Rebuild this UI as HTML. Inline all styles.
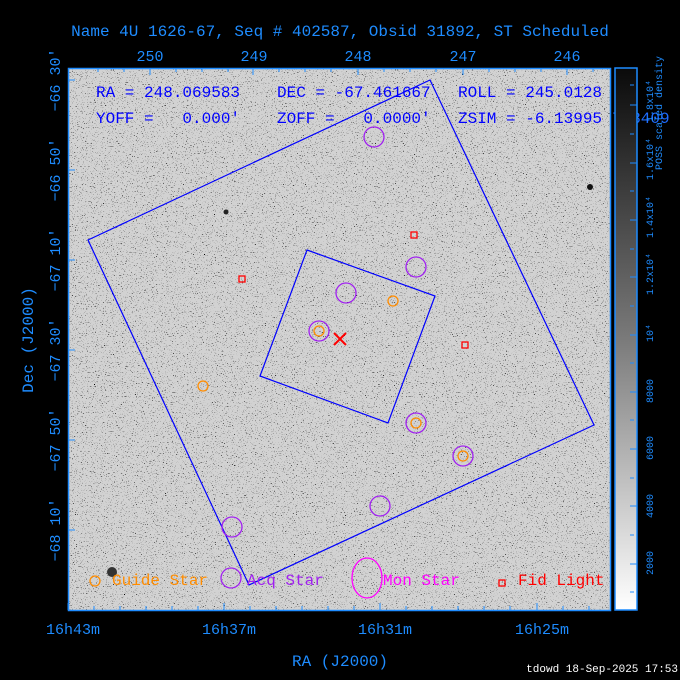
<!DOCTYPE html>
<html><head><meta charset="utf-8"><style>
html,body{margin:0;padding:0;background:#000;}
svg{display:block;}
text{font-family:"Liberation Mono",monospace;}
</style></head><body>
<svg width="680" height="680" viewBox="0 0 680 680" xmlns="http://www.w3.org/2000/svg">
<defs>
<filter id="nz" x="0" y="0" width="100%" height="100%">
<feTurbulence type="fractalNoise" baseFrequency="0.9" numOctaves="1" seed="7" result="t"/>
<feColorMatrix in="t" type="matrix" values="0 0 0 0 0  0 0 0 0 0  0 0 0 0 0  -9 0 0 0 3.4" result="d"/>
<feComposite in="d" in2="SourceGraphic" operator="over"/>
</filter>
<linearGradient id="cb" x1="0" y1="0" x2="0" y2="1">
<stop offset="0" stop-color="#0a0a0a"/><stop offset="0.5" stop-color="#7a7a7a"/><stop offset="1" stop-color="#ffffff"/>
</linearGradient>
</defs>
<rect x="68" y="68" width="542" height="542" fill="#d2d2d2" filter="url(#nz)"/>
<rect x="68.5" y="68.5" width="542" height="542" fill="none" stroke="#1e8cff" stroke-width="1.5"/>
<circle cx="590" cy="187" r="3" fill="#111"/><circle cx="112" cy="572" r="5" fill="#333"/><circle cx="226" cy="212" r="2.5" fill="#222"/>
<g stroke="#1e8cff" stroke-width="1">
<path d="M150 68v7M253 68v7M358 68v7M463 68v7M567 68v7M98 68v4M124 68v4M176 68v4M202 68v4M228 68v4M279 68v4M305 68v4M331 68v4M384 68v4M410 68v4M436 68v4M489 68v4M515 68v4M541 68v4M593 68v4"/>
<path d="M68 610v-7M224 610v-7M380 610v-7M537 610v-7M94 610v-4M120 610v-4M146 610v-4M172 610v-4M198 610v-4M250 610v-4M276 610v-4M302 610v-4M328 610v-4M354 610v-4M406 610v-4M432 610v-4M458 610v-4M484 610v-4M510 610v-4M563 610v-4M589 610v-4"/>
<path d="M68 80h7M68 170h7M68 260h7M68 350h7M68 440h7M68 530h7"/>
</g>
<g fill="none" stroke="#0000ff" stroke-width="1.2">
<polygon points="430,80 594,425 249,585 88,240"/>
<polygon points="307,250 435,296 388,423 260,376"/>
</g>
<g fill="none" stroke="#a020f0" stroke-width="1.3">
<circle cx="374" cy="137" r="10"/><circle cx="416" cy="267" r="10"/><circle cx="346" cy="293" r="10"/><circle cx="319" cy="331" r="10"/><circle cx="416" cy="423" r="10"/><circle cx="463" cy="456" r="10"/><circle cx="380" cy="506" r="10"/><circle cx="232" cy="527" r="10"/><circle cx="231" cy="578" r="10"/>
</g>
<g fill="none" stroke="#ff8c00" stroke-width="1.3">
<circle cx="319" cy="331" r="5"/><circle cx="393" cy="301" r="5"/><circle cx="203" cy="386" r="5"/><circle cx="416" cy="423" r="5"/><circle cx="463" cy="456" r="5"/><circle cx="95" cy="581" r="5"/>
</g>
<g fill="none" stroke="#ff0000" stroke-width="1.3">
<rect x="411" y="232" width="6" height="6"/><rect x="239" y="276" width="6" height="6"/><rect x="462" y="342" width="6" height="6"/><rect x="499" y="580" width="6" height="6"/>
<path d="M334 333l12 12M346 333l-12 12" stroke-width="2"/>
</g>
<ellipse cx="367" cy="578" rx="15" ry="20" fill="none" stroke="#ff00ff" stroke-width="1.3"/>
<g font-size="16">
<text x="112" y="585" fill="#ff8c00">Guide Star</text>
<text x="247" y="585" fill="#a020f0">Acq Star</text>
<text x="383" y="585" fill="#ff00ff">Mon Star</text>
<text x="518" y="585" fill="#ff0000">Fid Light</text>
</g>
<g font-size="16" fill="#0000ff">
<text x="96" y="97">RA = 248.069583</text>
<text x="277" y="97">DEC = -67.461667</text>
<text x="458" y="97">ROLL = 245.0128</text>
<text x="96" y="123" xml:space="preserve">YOFF =   0.000′</text>
<text x="277" y="123" xml:space="preserve">ZOFF =   0.0000′</text>
<text x="458" y="123">ZSIM = -6.13995</text>
<text x="612" y="123" fill="#1e6cff">7.8409</text>
</g>
<rect x="615" y="68" width="22" height="542" fill="url(#cb)" stroke="#1e8cff" stroke-width="1.5"/>
<g stroke="#1e8cff"><path d="M630 105h7M630 163h7M630 220h7M630 277h7M630 335h7M630 392h7M630 449h7M630 506h7M630 564h7M630 85h4M630 134h4M630 191h4M630 249h4M630 306h4M630 363h4M630 420h4M630 478h4M630 535h4M630 592h4"/></g>
<g font-size="10" fill="#1e8cff">
<text transform="translate(653,575) rotate(-90)">2000</text>
<text transform="translate(653,518) rotate(-90)">4000</text>
<text transform="translate(653,460) rotate(-90)">6000</text>
<text transform="translate(653,403) rotate(-90)">8000</text>
<text transform="translate(653,342) rotate(-90)">10⁴</text>
<text transform="translate(653,295) rotate(-90)">1.2x10⁴</text>
<text transform="translate(653,238) rotate(-90)">1.4x10⁴</text>
<text transform="translate(653,180) rotate(-90)">1.6x10⁴</text>
<text transform="translate(653,122) rotate(-90)">1.8x10⁴</text>
<text transform="translate(662,170) rotate(-90)">POSS scaled density</text>
</g>
<text x="340" y="36" font-size="16" fill="#1e8cff" text-anchor="middle">Name 4U 1626-67, Seq # 402587, Obsid 31892, ST Scheduled</text>
<g font-size="15" fill="#1e8cff" text-anchor="middle">
<text x="150" y="61">250</text><text x="254" y="61">249</text><text x="358" y="61">248</text><text x="463" y="61">247</text><text x="567" y="61">246</text>
<text x="73" y="634">16h43m</text><text x="229" y="634">16h37m</text><text x="385" y="634">16h31m</text><text x="542" y="634">16h25m</text>
<text transform="translate(60,80) rotate(-90)">−66 30′</text>
<text transform="translate(60,170) rotate(-90)">−66 50′</text>
<text transform="translate(60,260) rotate(-90)">−67 10′</text>
<text transform="translate(60,350) rotate(-90)">−67 30′</text>
<text transform="translate(60,440) rotate(-90)">−67 50′</text>
<text transform="translate(60,530) rotate(-90)">−68 10′</text>
</g>
<text x="340" y="666" font-size="16" fill="#1e8cff" text-anchor="middle">RA (J2000)</text>
<text transform="translate(33,340) rotate(-90)" font-size="16" fill="#1e8cff" text-anchor="middle">Dec (J2000)</text>
<text x="678" y="672" font-size="11" fill="#fff" text-anchor="end">tdowd 18-Sep-2025 17:53</text>
</svg>
</body></html>
